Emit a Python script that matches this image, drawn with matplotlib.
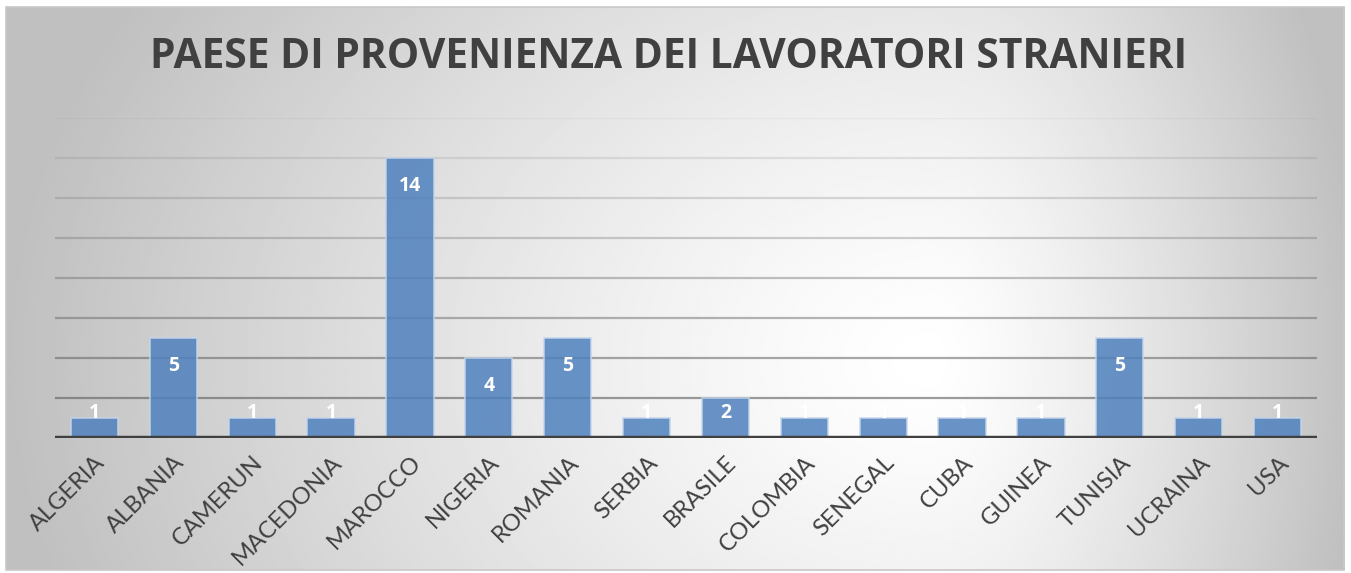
import numpy as np
import matplotlib
matplotlib.use("Agg")
import matplotlib.pyplot as plt
from matplotlib.patches import Rectangle

# chart data
countries = ["ALGERIA", "ALBANIA", "CAMERUN", "MACEDONIA", "MAROCCO", "NIGERIA",
             "ROMANIA", "SERBIA", "BRASILE", "COLOMBIA", "SENEGAL", "CUBA",
             "GUINEA", "TUNISIA", "UCRAINA", "USA"]
workers = [1, 5, 1, 1, 14, 4, 5, 1, 2, 1, 1, 1, 1, 5, 1, 1]
title = "PAESE DI PROVENIENZA DEI LAVORATORI STRANIERI"

plt.rcParams['font.family'] = ['Lato', 'DejaVu Sans']
bold_font = ['Open Sans', 'DejaVu Sans']

W, H = 1351, 573
fig = plt.figure(figsize=(W / 100, H / 100), dpi=100)
fig.patch.set_facecolor("white")

# background panel with a soft off-centre gradient
bg = fig.add_axes([6 / W, 3 / H, 1338 / W, 563 / H])
bg.set_zorder(0)
xs = np.linspace(6, 1344, 600)
ys = np.linspace(7, 570, 260)
X, Y = np.meshgrid(xs, ys)
cx, cy = 930, 360
sx = np.where(X < cx, 930, 430)
d = np.sqrt(((X - cx) / sx) ** 2 + ((Y - cy) / 720) ** 2)
level = 1.0 - 0.25 * np.clip(d, 0, 1) ** 1.3
bg.imshow(level, cmap="gray", vmin=0, vmax=1, aspect="auto",
          extent=[0, 1, 0, 1], interpolation="bilinear")
bg.set_xlim(0, 1)
bg.set_ylim(0, 1)
bg.axis("off")
bg.add_patch(Rectangle((0, 0), 1, 1, transform=bg.transAxes, fill=False,
                       edgecolor="#c8c8c8", linewidth=1.2, clip_on=False))

ax = fig.add_axes([55 / W, (H - 438) / H, 1262 / W, 320 / H])
ax.set_zorder(1)
ax.patch.set_alpha(0)

x = np.arange(len(countries))
ax.set_xlim(-0.5, len(countries) - 0.5)
ax.set_ylim(0, 16)

# gridlines, lighter towards the top
for g in range(2, 17, 2):
    a = 0.7 - 0.04 * g
    ax.axhline(g, color="#606060", alpha=a, linewidth=1.6, zorder=1)

ax.bar(x, workers, width=0.6, color="#4F81BD", alpha=0.85,
       edgecolor="#c5d6ec", linewidth=1.2, zorder=2)
ax.axhline(0, color="#404040", linewidth=3.2, zorder=3)

for xi, v in zip(x, workers):
    ax.text(xi, max(v - 1.4, 1.25), str(v), ha="center", va="center",
            color="white", fontsize=14, fontweight="bold", family=bold_font,
            zorder=4)

ax.set_xticks(x)
ax.set_xticklabels(countries, rotation=45, ha="right", va="top",
                   rotation_mode="anchor", fontsize=17, color="#404040")
ax.tick_params(axis="x", length=0, pad=10)
ax.set_yticks([])
for s in ax.spines.values():
    s.set_visible(False)

fig.text(0.495, 1 - 57 / H, title, ha="center", va="center",
         fontsize=29.3, fontweight="bold", family=bold_font, color="#404040")

fig.savefig("out.png", dpi=100)
